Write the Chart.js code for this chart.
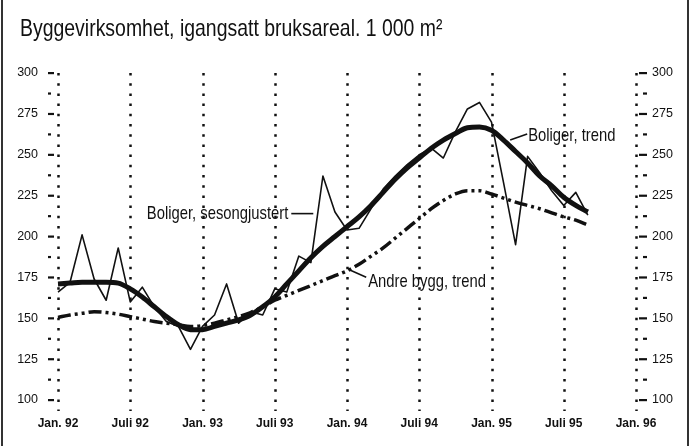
<!DOCTYPE html>
<html>
<head>
<meta charset="utf-8">
<script src="https://cdn.jsdelivr.net/npm/chart.js@4.4.1/dist/chart.umd.min.js"></script>
<style>
  html, body { margin: 0; padding: 0; background: #fff; }
  #wrap { position: relative; width: 691px; height: 446px; overflow: hidden; }
  #title {
    position: absolute; left: 20px; top: 15px; margin: 0;
    font: 24px/26px "Liberation Sans", Arial, sans-serif;
    color: #111; white-space: nowrap; font-weight: normal;
    transform: scaleX(0.81); transform-origin: 0 0;
  }
  canvas { position: absolute; left: 0; top: 0; }
</style>
</head>
<body>
<div id="wrap">
  <canvas id="chart" width="691" height="446"></canvas>
  <h1 id="title">Byggevirksomhet, igangsatt bruksareal. 1 000 m²</h1>
</div>
<script>
/* ---- Data (månedlig, jan. 92 - sep. 95) ---- */
const xTickLabels = ['Jan. 92','Juli 92','Jan. 93','Juli 93','Jan. 94','Juli 94','Jan. 95','Juli 95','Jan. 96'];
const yTicks = [100, 125, 150, 175, 200, 225, 250, 275, 300];

const boligerSesong = [
  166, 172, 201, 174, 161, 193, 160, 169, 157, 148, 145, 131,
  145, 152, 171, 147, 154, 152, 168, 166, 188, 184, 237, 215,
  204, 205, 217, 229, 237, 244, 250, 254, 248, 264, 278, 282,
  270, 233, 195, 249, 239, 228, 219, 227, 213
];
const boligerTrend = [
  171, 171.5, 172, 172, 172, 171.5, 168, 163, 157, 151, 146, 143,
  143, 145, 147, 149, 152, 157, 163, 171, 179, 187, 194, 200,
  206, 212, 219, 227, 235, 242, 248, 254, 259, 263, 266.5, 267,
  265, 259, 252, 245, 237, 231, 224, 219, 215
];
const andreTrend = [
  150.5, 152, 153, 154, 153.5, 152.5, 151, 149.5, 148, 147, 146, 145,
  145.5, 147, 149, 151, 153.5, 157, 161, 164, 167, 170, 173, 176,
  179, 183, 188, 193, 199, 205, 211, 217, 222, 226, 228, 228,
  226, 223.5, 221, 219, 217, 214.5, 212, 210, 207
];

// kategorier: jan. 92 .. jan. 96
const months = [];
for (let y = 1992; y <= 1996; y++) {
  for (let m = 1; m <= 12; m++) {
    if (y === 1996 && m > 1) break;
    months.push(`${y}-${String(m).padStart(2,'0')}`);
  }
}

const FONT = '"Liberation Sans", Arial, sans-serif';
const INK = '#111';

// smal tekst (Helvetica Condensed-aktig) via horisontal skalering
function narrowText(ctx, txt, x, y, align, sx = 0.8) {
  ctx.save();
  ctx.translate(x, y);
  ctx.scale(sx, 1);
  ctx.textAlign = align;
  ctx.fillText(txt, 0, 0);
  ctx.restore();
}

/* ---- Plugin: prikkede linjer, tickmerker, etiketter ---- */
const decor = {
  id: 'decor',
  beforeDatasetsDraw(chart) {
    const { ctx, chartArea: ca, scales: { x, y } } = chart;
    ctx.save();
    ctx.strokeStyle = INK;
    ctx.lineWidth = 2.5;
    ctx.setLineDash([2.5, 7.7]);
    for (let i = 0; i < months.length; i += 6) {
      const px = Math.round(x.getPixelForValue(i)) + 0.5;
      ctx.beginPath();
      ctx.moveTo(px, ca.top);
      ctx.lineTo(px, ca.bottom + 11);
      ctx.stroke();
    }
    ctx.setLineDash([]);
    ctx.fillStyle = INK;
    yTicks.forEach((v, k) => {
      const py = y.getPixelForValue(v);
      ctx.fillRect(ca.left - 10, py - 1, 6, 2.2);
      ctx.fillRect(ca.right + 3, py - 1, 8, 2.2);
      if (k < yTicks.length - 1) {
        const pm = y.getPixelForValue(v + 12.5);
        ctx.fillRect(ca.left - 10, pm - 1, 3, 2.2);
        ctx.fillRect(ca.right + 7, pm - 1, 4, 2.2);
      }
    });
    ctx.restore();
  },
  afterDatasetsDraw(chart) {
    const { ctx, scales: { x, y } } = chart;
    const P = (i, v) => [x.getPixelForValue(i), y.getPixelForValue(v)];
    ctx.save();
    ctx.fillStyle = INK;
    ctx.strokeStyle = INK;
    ctx.lineWidth = 1.6;
    ctx.font = `18.5px ${FONT}`;
    ctx.textBaseline = 'middle';

    // Boliger, sesongjustert
    let [ax, ay] = P(21.2, 214);
    ctx.beginPath(); ctx.moveTo(ax - 22, ay); ctx.lineTo(ax, ay); ctx.stroke();
    narrowText(ctx, 'Boliger, sesongjustert', ax - 25, ay, 'right');

    // Andre bygg, trend
    [ax, ay] = P(24.1, 180);
    ctx.beginPath(); ctx.moveTo(ax, ay); ctx.lineTo(ax + 18, ay + 8); ctx.stroke();
    narrowText(ctx, 'Andre bygg, trend', ax + 20, ay + 13, 'left');

    // Boliger, trend
    [ax, ay] = P(37.55, 259);
    ctx.beginPath(); ctx.moveTo(ax, ay); ctx.lineTo(ax + 17, ay - 6); ctx.stroke();
    narrowText(ctx, 'Boliger, trend', ax + 18, ay - 4, 'left');
    ctx.restore();
  },
  afterDraw(chart) {
    const { ctx, width, height } = chart;
    ctx.save();
    ctx.fillStyle = '#333';
    ctx.fillRect(1, 0, 2, height);
    ctx.fillRect(width - 4, 0, 2, height);
    ctx.restore();
  }
};

const tickFont = { family: FONT, size: 12.5 };

new Chart(document.getElementById('chart').getContext('2d'), {
  type: 'line',
  data: {
    labels: months,
    datasets: [
      { label: 'Andre bygg, trend', data: andreTrend, borderColor: INK, borderWidth: 3.5,
        borderDash: [13, 4, 3, 4, 3, 4], tension: 0.4, cubicInterpolationMode: 'monotone', yAxisID: 'y' },
      { label: 'Boliger, sesongjustert', data: boligerSesong, borderColor: INK, borderWidth: 1.6,
        tension: 0, yAxisID: 'y' },
      { label: 'Boliger, trend', data: boligerTrend, borderColor: INK, borderWidth: 5,
        tension: 0.4, cubicInterpolationMode: 'monotone', yAxisID: 'y' }
    ]
  },
  options: {
    responsive: false,
    animation: false,
    devicePixelRatio: 1,
    layout: { padding: { top: 73, left: 0, right: 0, bottom: 0 } },
    elements: { point: { radius: 0 }, line: { borderCapStyle: 'butt', borderJoinStyle: 'round' } },
    plugins: { legend: { display: false }, tooltip: { enabled: false }, title: { display: false } },
    scales: {
      x: {
        type: 'category',
        offset: false,
        grid: { display: false, drawTicks: false },
        border: { display: false },
        ticks: {
          autoSkip: false, maxRotation: 0, padding: 16, color: INK,
          font: { family: FONT, size: 12, weight: 'bold' },
          callback: (v, i) => (i % 6 === 0 ? xTickLabels[i / 6] : null)
        },
        afterFit: (s) => { s.height = 46; }
      },
      y: {
        position: 'left', min: 100, max: 300,
        grid: { display: false, drawTicks: false },
        border: { display: false },
        afterBuildTicks: (s) => { s.ticks = yTicks.map(v => ({ value: v })); },
        ticks: { padding: 20, color: INK, font: tickFont },
        afterFit: (s) => { s.width = 58; }
      },
      y2: {
        position: 'right', min: 100, max: 300,
        grid: { display: false, drawTicks: false },
        border: { display: false },
        afterBuildTicks: (s) => { s.ticks = yTicks.map(v => ({ value: v })); },
        ticks: { padding: 16, color: INK, font: tickFont },
        afterFit: (s) => { s.width = 55; }
      }
    }
  },
  plugins: [decor]
});
</script>
</body>
</html>
